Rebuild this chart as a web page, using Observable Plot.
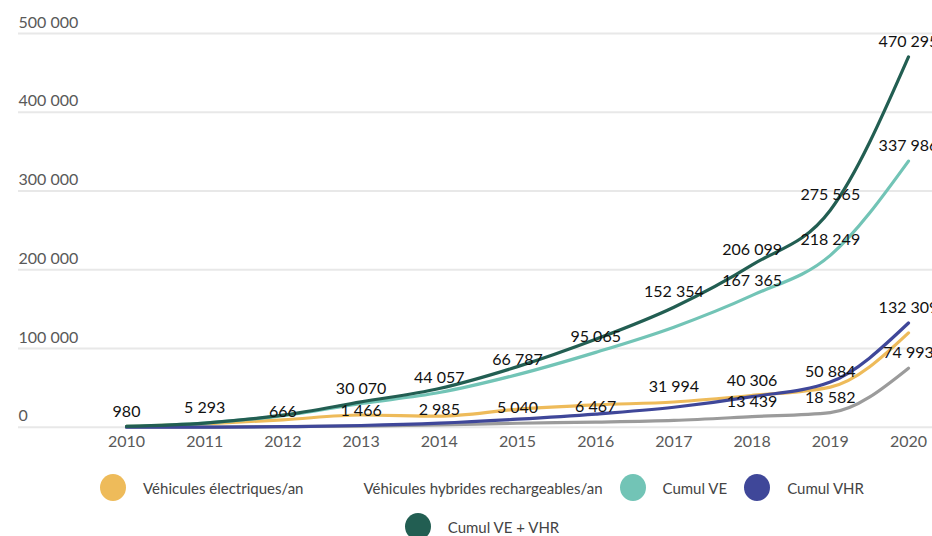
<!DOCTYPE html>
<html>
<head>
<meta charset="utf-8">
<script src="https://cdn.jsdelivr.net/npm/d3@7"></script>
<script src="https://cdn.jsdelivr.net/npm/@observablehq/plot@0.6"></script>
<style>
  html, body { margin: 0; padding: 0; background: #fff; overflow: hidden; }
  body { width: 932px; height: 536px; position: relative; font-family: Lato, "Open Sans", sans-serif; }
  .legend-row { position: absolute; left: 0; width: 932px; display: flex; justify-content: center; align-items: center; }
  .item { display: flex; align-items: center; margin: 0 8.5px; }
  .sw { width: 26px; height: 27px; border-radius: 50%; margin-right: 17px; }
  .lab { font-size: 15px; color: #444; white-space: nowrap; }
</style>
</head>
<body>
<div id="chart"></div>
<div class="legend-row" id="row1" style="top:474px"></div>
<div class="legend-row" id="row2" style="top:513px"></div>
<script>
const years = [2010, 2011, 2012, 2013, 2014, 2015, 2016, 2017, 2018, 2019, 2020];
const veAn = [980, 4313, 9314, 15463, 13987, 22730, 28278, 31994, 40306, 50884, 119737];
const vhrAn = [0, 0, 666, 1466, 2985, 5040, 6467, 8671, 13439, 18582, 74993];
const cumulVE = [980, 5293, 14607, 30070, 44057, 66787, 95065, 127059, 167365, 218249, 337986];
const cumulVHR = [0, 0, 666, 2132, 5117, 10157, 16624, 25295, 38734, 57316, 132309];
const cumulTotal = [980, 5293, 15273, 32202, 49174, 76944, 111689, 152354, 206099, 275565, 470295];
const yTicks = [0, 100000, 200000, 300000, 400000, 500000];

const seriesNames = ["Véhicules électriques/an", "Véhicules hybrides rechargeables/an", "Cumul VE", "Cumul VHR", "Cumul VE + VHR"];
const seriesColors = ["#eebb5a", "#9b9b9b", "#72c4b6", "#3f4799", "#225e52"];
const legendColors = ["#eebb5a", "#ffffff", "#72c4b6", "#3f4799", "#225e52"];
const seriesValues = [veAn, vhrAn, cumulVE, cumulVHR, cumulTotal];
const labelYears = [
  [2017, 2018, 2019],
  [2012, 2013, 2014, 2015, 2016, 2018, 2019, 2020],
  [2010, 2011, 2013, 2014, 2015, 2016, 2018, 2019, 2020],
  [2020],
  [2017, 2018, 2019, 2020]
];
const drawOrder = [0, 1, 2, 3, 4];

const locale = d3.formatLocale({decimal: ",", thousands: " ", grouping: [3], currency: ["", ""]});
const fmt = locale.format(",d");

const rows = seriesNames.map((name, i) => years.map((year, j) => ({series: name, idx: i, year, value: seriesValues[i][j]})));
const labelRows = rows.flatMap((r, i) => r.filter(d => labelYears[i].includes(d.year)));

const marks = [
  Plot.ruleY(yTicks, {stroke: "#e8e8e8", strokeWidth: 2}),
  Plot.text(yTicks, {y: d => d, frameAnchor: "left", textAnchor: "start", dy: -11, text: d => fmt(d), fill: "#595959", fontSize: 16}),
  Plot.text(years, {x: d => d, frameAnchor: "bottom", dy: -14, text: d => String(d), fill: "#595959", fontSize: 16}),
  ...drawOrder.map(i => Plot.line(rows[i], {x: "year", y: "value", stroke: seriesColors[i], strokeWidth: 3.2, curve: "monotone-x"})),
  Plot.text(labelRows, {x: "year", y: "value", text: d => fmt(d.value), dy: -15, fill: "#111", fontSize: 16})
];

const chart = Plot.plot({
  width: 932,
  height: 460,
  marginLeft: 18,
  marginRight: 0,
  marginTop: 0,
  marginBottom: 0,
  style: {fontFamily: "Lato, 'Open Sans', sans-serif", background: "#fff", overflow: "visible"},
  x: {domain: [2010, 2020], range: [126, 908], axis: null},
  y: {domain: [0, 500000], range: [426.7, 33], axis: null},
  marks
});
document.getElementById("chart").appendChild(chart);

function addItem(row, i) {
  const item = document.createElement("div");
  item.className = "item";
  const sw = document.createElement("div");
  sw.className = "sw";
  sw.style.background = legendColors[i];
  const lab = document.createElement("span");
  lab.className = "lab";
  lab.textContent = seriesNames[i];
  item.appendChild(sw);
  item.appendChild(lab);
  row.appendChild(item);
}
const row1 = document.getElementById("row1");
const row2 = document.getElementById("row2");
[0, 1, 2, 3].forEach(i => addItem(row1, i));
addItem(row2, 4);
row1.style.transform = "translateX(16px)";
row2.style.transform = "translateX(16px)";
</script>
</body>
</html>
